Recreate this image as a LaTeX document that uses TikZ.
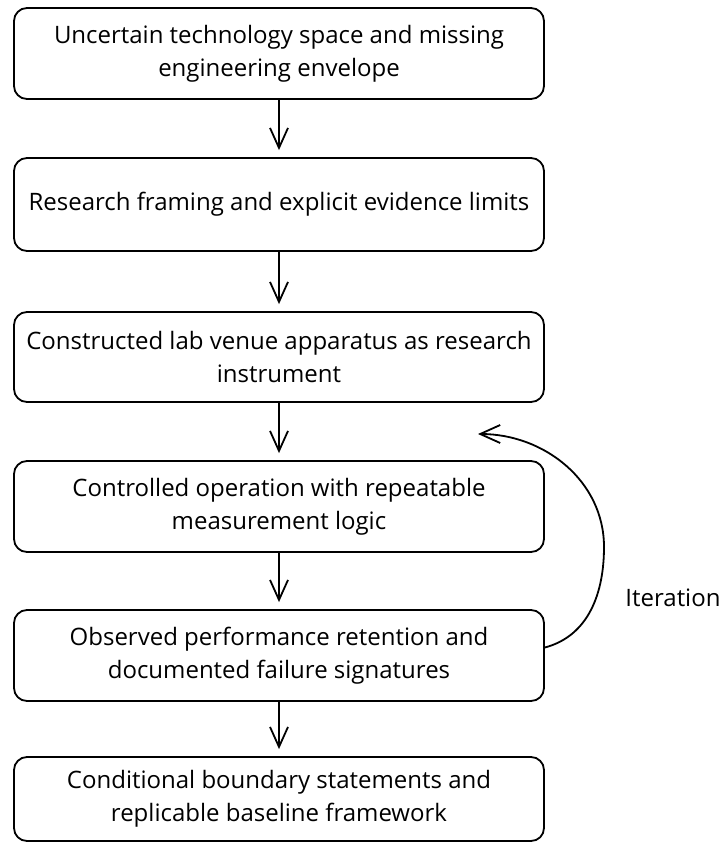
\documentclass[tikz,border=0pt]{standalone}
\usepackage{fontspec}
\setmainfont{Open Sans}
\usetikzlibrary{arrows.meta}
\begin{document}
\begin{tikzpicture}[x=1pt,y=-1pt,
  stepbox/.style={draw=black, line width=1.8pt, rounded corners=13pt, minimum width=530pt, minimum height=91pt, align=center, font=\fontsize{24}{33}\selectfont, inner sep=0pt},
  arr/.style={line width=1.8pt, -{Straight Barb[length=20pt,width=18pt,line width=1.8pt]}}]
\useasboundingbox (0,0) rectangle (722,843);
\node[stepbox] (b1) at (279,53.5) {Uncertain technology space and missing\\engineering envelope};
\node[stepbox, minimum height=93pt] (b2) at (279,204.5) {Research framing and explicit evidence limits};
\node[stepbox, minimum height=90pt] (b3) at (279,357) {Constructed lab venue apparatus as research\\instrument};
\node[stepbox] (b4) at (279,506.5) {Controlled operation with repeatable\\measurement logic};
\node[stepbox] (b5) at (279,655.5) {Observed performance retention and\\documented failure signatures};
\node[stepbox, minimum height=84pt] (b6) at (279,799) {Conditional boundary statements and\\replicable baseline framework};
\draw[arr] (b1.south) -- ([yshift=7pt]b2.north);
\draw[arr] (b2.south) -- ([yshift=7pt]b3.north);
\draw[arr] (b3.south) -- ([yshift=7pt]b4.north);
\draw[arr] (b4.south) -- ([yshift=7pt]b5.north);
\draw[arr] (b5.south) -- ([yshift=7pt]b6.north);
\coordinate (lp) at (478,434);
\coordinate (lm) at (604,547);
\draw[arr] ([yshift=8pt]b5.east) to[out=15,in=-90] (lm) to[out=90,in=0] (lp);
\node[font=\fontsize{24}{33}\selectfont] (it) at (673,598) {Iteration};
\end{tikzpicture}
\end{document}
